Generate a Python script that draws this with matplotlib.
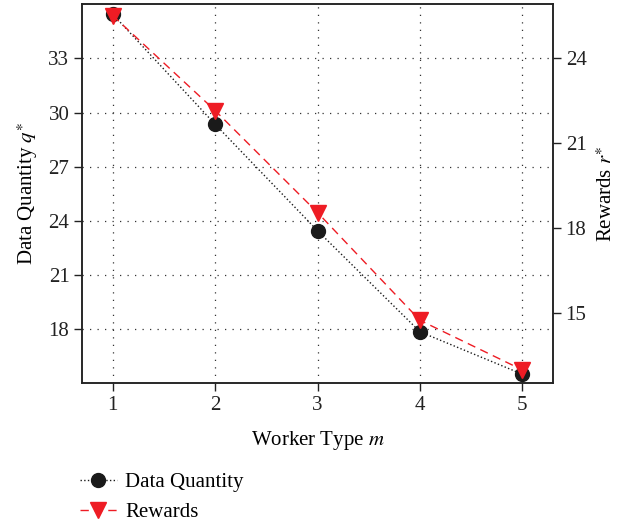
import numpy as np
import matplotlib.pyplot as plt

plt.rcParams['font.family'] = ['Liberation Serif', 'DejaVu Serif']
plt.rcParams['mathtext.fontset'] = 'stix'

worker_type = [1, 2, 3, 4, 5]
data_quantity = [35.45, 29.35, 23.45, 17.85, 15.5]
rewards = [25.5, 22.15, 18.55, 14.75, 13.0]

fs = 15

fig = plt.figure(figsize=(6.3, 5.25), dpi=100)
ax = fig.add_axes([0.130, 0.270, 0.748, 0.722])
ax2 = ax.twinx()

l1, = ax.plot(worker_type, data_quantity, color='#1a1a1a', linestyle=':', linewidth=1.0,
              marker='o', markersize=10, label='Data Quantity')
l2, = ax2.plot(worker_type, rewards, color='#ee1c24', linestyle=(0, (6, 4)), linewidth=1.0,
               marker='v', markersize=11, label='Rewards')

ax.set_xlim(0.7, 5.3)
ax.set_ylim(15.0, 36.0)
ax2.set_ylim(12.53, 25.9)

ax.set_xticks(worker_type)
ax.set_yticks([18, 21, 24, 27, 30, 33])
ax2.set_yticks([15, 18, 21, 24])

ax.grid(True, linestyle=(0, (1, 5)), color='#333333', linewidth=0.9)

for a in (ax, ax2):
    a.tick_params(direction='out', length=6, width=1, pad=3, labelsize=fs, colors='#222222')
    for s in a.spines.values():
        s.set_linewidth(1.1)
        s.set_color('#222222')

ax.set_xlabel('Worker Type $m$', fontsize=fs, labelpad=10)
ax.set_ylabel('Data Quantity $q^{\\ast}$', fontsize=fs, labelpad=6)
ax2.set_ylabel('Rewards $r^{\\ast}$', fontsize=fs, labelpad=8)

fig.legend(handles=[l1, l2], loc='upper left', bbox_to_anchor=(0.114, 0.116),
           frameon=False, fontsize=fs, handlelength=1.75, handletextpad=0.4,
           labelspacing=0.5, borderaxespad=0)

fig.savefig('out.png', dpi=100)
